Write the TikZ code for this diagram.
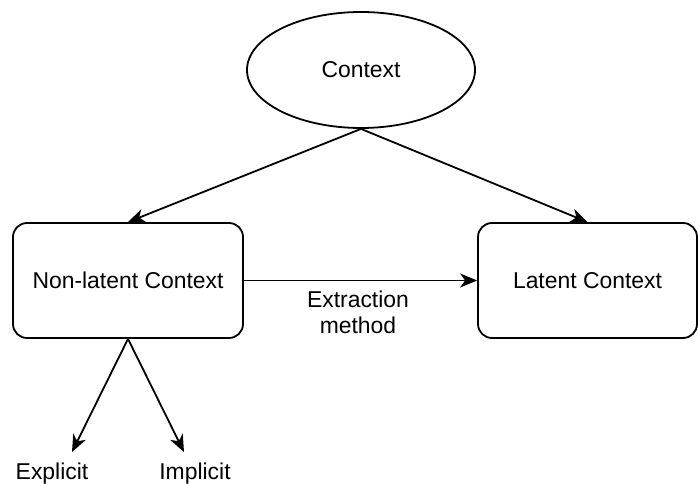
\documentclass[tikz,border=0pt]{standalone}
\usepackage{fontspec}
\setmainfont{Liberation Sans}
\usetikzlibrary{arrows.meta,shapes.geometric}
\begin{document}
\begin{tikzpicture}[x=1pt,y=-1pt,
  every node/.style={font=\fontsize{22.9}{26}\selectfont},
  box/.style={draw, line width=1.8pt, rounded corners=14pt,
    minimum width=230pt, minimum height=115pt, inner sep=0pt},
  link/.style={line width=1.8pt, -{Stealth[length=17pt,width=14pt,inset=5pt]}},
]
\useasboundingbox (0,0) rectangle (698,484);

% nodes
\node[draw, ellipse, line width=1.8pt, minimum width=228pt, minimum height=116pt,
  inner sep=0pt] (ctx) at (361,70) {Context};
\node[box] (nl) at (128,280.5) {Non-latent Context};
\node[box, minimum width=219pt] (lt) at (587.5,280.5) {Latent Context};

% connectors from the context
\draw[link] (ctx.south) -- (nl.north);
\draw[link] (ctx.south) -- (lt.north);
\draw[link] (nl.east) -- (lt.west);
\node[align=center] (em) at (358,312.5) {Extraction\\method};

% split of the non-latent context
\coordinate (pe) at (72,452);
\coordinate (pi) at (184,452);
\draw[link] (nl.south) -- (pe);
\draw[link] (nl.south) -- (pi);
\node[anchor=base] (lex) at (52,479) {Explicit};
\node[anchor=base] (lim) at (195,479) {Implicit};
\end{tikzpicture}
\end{document}
